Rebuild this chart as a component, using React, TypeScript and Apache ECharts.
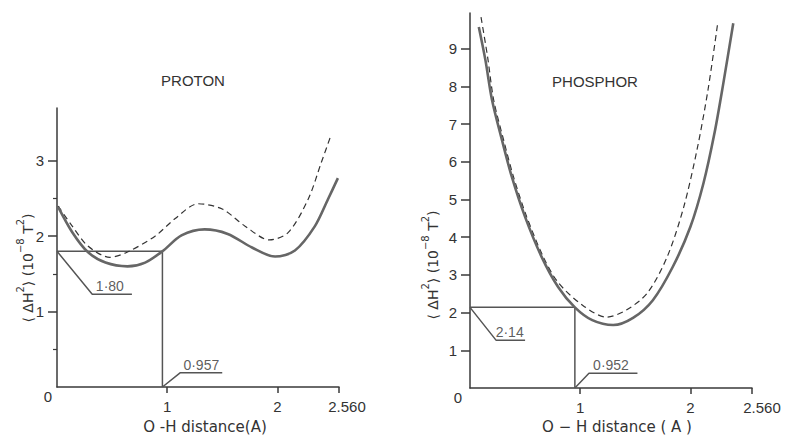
import React, { useEffect, useRef } from "react";
import * as echarts from "echarts";

// PROTON panel (O-H distance in Å, <ΔH²> in 1e-8 T²)
const protonSolid: [number, number][] = [
  [0.01, 2.39], [0.14, 2.05], [0.28, 1.79], [0.44, 1.65], [0.64, 1.6], [0.8, 1.65],
  [0.957, 1.8], [1.13, 2.01], [1.34, 2.09], [1.55, 2.03], [1.77, 1.85], [1.98, 1.73],
  [2.16, 1.81], [2.34, 2.13], [2.46, 2.49], [2.55, 2.77],
];
const protonDashed: [number, number][] = [
  [0.01, 2.4], [0.14, 2.13], [0.28, 1.87], [0.48, 1.72], [0.64, 1.79], [0.89, 2.0],
  [1.07, 2.23], [1.28, 2.43], [1.5, 2.36], [1.71, 2.13], [1.93, 1.95], [2.1, 2.05],
  [2.28, 2.49], [2.4, 2.98], [2.49, 3.35],
];
const protonEq = { r: 0.957, v: 1.8, rText: "0·957", vText: "1·80" };
const protonVLeader: [number, number][] = [[0, 1.8], [0.32, 1.23], [0.68, 1.23]];
const protonRLeader: [number, number][] = [[0.957, 0], [1.12, 0.19], [1.5, 0.19]];
const protonLabelPos: [number, number][] = [[0.48, 1.23], [1.31, 0.19]];

// PHOSPHOR panel
const phosSolid: [number, number][] = [
  [0.08, 9.58], [0.14, 8.7], [0.2, 7.64], [0.29, 6.58], [0.38, 5.6], [0.5, 4.54],
  [0.65, 3.48], [0.8, 2.68], [0.952, 2.14], [1.11, 1.8], [1.3, 1.67], [1.48, 1.86],
  [1.66, 2.33], [1.84, 3.21], [2.0, 4.27], [2.12, 5.44], [2.22, 6.77], [2.3, 8.09],
  [2.39, 9.68],
];
const phosDashed: [number, number][] = [
  [0.1, 9.84], [0.16, 8.78], [0.215, 7.64], [0.305, 6.58], [0.395, 5.6], [0.515, 4.54],
  [0.665, 3.48], [0.8, 2.8], [1.02, 2.2], [1.24, 1.88], [1.42, 2.07], [1.61, 2.52],
  [1.79, 3.48], [1.94, 4.8], [2.06, 6.31], [2.16, 7.9], [2.25, 9.71],
];
const phosEq = { r: 0.952, v: 2.14, rText: "0·952", vText: "2·14" };
const phosVLeader: [number, number][] = [[0, 2.14], [0.236, 1.27], [0.5, 1.27]];
const phosRLeader: [number, number][] = [[0.952, 0], [1.08, 0.39], [1.52, 0.39]];
const phosLabelPos: [number, number][] = [[0.36, 1.27], [1.28, 0.39]];

const xTicks = [1, 2, 2.56];
const protonYTicks = [1, 2, 3];
const protonYMinor = [0.5, 1.5, 2.5];
const phosYTicks = [1, 2, 3, 4, 5, 6, 7, 8, 9];

const FONT = "Liberation Sans";
const AXIS = "#3a3a3a";
const CURVE = "#666666";
const TXT = "#333";

export default function App() {
  const ref = useRef<HTMLDivElement>(null);
  useEffect(() => {
    if (!ref.current) return;
    const chart = echarts.init(ref.current, undefined, { renderer: "svg" });

    const xAxis = (gridIndex: number, endPad: number) => ({
      type: "value",
      gridIndex,
      min: 0,
      max: 2.56,
      axisLine: { lineStyle: { color: AXIS, width: 1.5 } },
      axisTick: { customValues: xTicks, length: 6, lineStyle: { color: AXIS, width: 1.5 } },
      axisLabel: {
        customValues: xTicks,
        margin: 12,
        color: TXT,
        fontFamily: FONT,
        fontSize: 15,
        formatter: (v: number) => (Math.abs(v - 2.56) < 1e-6 ? "{e|2.560}" : String(v)),
        rich: { e: { padding: [0, 0, 0, endPad], fontFamily: FONT, fontSize: 15, color: TXT } },
      },
      splitLine: { show: false },
    });
    const yAxis = (gridIndex: number, max: number, ticks: number[]) => ({
      type: "value",
      gridIndex,
      min: 0,
      max,
      position: "left",
      axisLine: { show: true, lineStyle: { color: AXIS, width: 1.5 } },
      axisTick: { show: true, customValues: ticks, length: 9, lineStyle: { color: AXIS, width: 1.5 } },
      axisLabel: { customValues: ticks, margin: 13, color: TXT, fontFamily: FONT, fontSize: 15 },
      splitLine: { show: false },
    });

    const line = (data: [number, number][], axisIdx: number, yIdx: number, dashed: boolean) => ({
      type: "line",
      xAxisIndex: axisIdx,
      yAxisIndex: yIdx,
      data,
      smooth: 0.3,
      showSymbol: false,
      symbol: "none",
      silent: true,
      lineStyle: dashed ? { color: "#333", width: 1.2, type: [6, 4] } : { color: CURVE, width: 2.6 },
      z: dashed ? 3 : 4,
    });
    const straight = (data: [number, number][], axisIdx: number, yIdx: number) => ({
      type: "line",
      xAxisIndex: axisIdx,
      yAxisIndex: yIdx,
      data,
      showSymbol: false,
      symbol: "none",
      silent: true,
      lineStyle: { color: "#555", width: 1.5 },
      z: 2,
    });
    const guide = (eq: { r: number; v: number }): [number, number][] => [
      [0, eq.v],
      [eq.r, eq.v],
      [eq.r, 0],
    ];
    const labels = (pos: [number, number][], texts: string[], axisIdx: number, yIdx: number) => ({
      type: "scatter",
      xAxisIndex: axisIdx,
      yAxisIndex: yIdx,
      symbolSize: 0,
      silent: true,
      data: pos.map((p, i) => ({ value: p, name: texts[i] })),
      label: {
        show: true,
        position: "top",
        distance: 1,
        formatter: (p: any) => p.name,
        color: TXT,
        fontFamily: FONT,
        fontSize: 14,
      },
    });

    const yNameRich = "{n|⟨ ΔH}{s|2}{n|⟩ (10}{s|−8}{n| T}{s|2}{n|)}";
    const rich = {
      n: { fontFamily: "DejaVu Sans", fontSize: 14, fill: TXT, color: TXT, verticalAlign: "bottom", lineHeight: 20 },
      s: { fontFamily: "DejaVu Sans", fontSize: 10, fill: TXT, color: TXT, verticalAlign: "top", lineHeight: 20 },
    };
    const yName = (x: number, y: number) => ({
      type: "text",
      x,
      y,
      rotation: Math.PI / 2,
      style: { text: yNameRich, rich, align: "center", verticalAlign: "middle", fill: TXT },
    });
    const txt = (x: number, y: number, text: string, size: number, family = FONT) => ({
      type: "text",
      x,
      y,
      style: { text, align: "center", verticalAlign: "middle", fontFamily: family, fontSize: size, fill: TXT },
    });

    chart.setOption({
      animation: false,
      backgroundColor: "#ffffff",
      grid: [
        { left: 57, top: 108, width: 282, height: 279 },
        { left: 470, top: 13, width: 282, height: 375 },
      ],
      xAxis: [xAxis(0, 16), xAxis(1, 20)],
      yAxis: [
        yAxis(0, 3.7, protonYTicks),
        {
          type: "value",
          gridIndex: 0,
          min: 0,
          max: 3.7,
          position: "left",
          axisLine: { show: false },
          axisTick: { show: true, customValues: protonYMinor, length: 4, lineStyle: { color: AXIS, width: 1.2 } },
          axisLabel: { show: false },
          splitLine: { show: false },
        },
        yAxis(1, 9.95, phosYTicks),
      ],
      series: [
        straight(guide(protonEq), 0, 0),
        straight(protonVLeader, 0, 0),
        straight(protonRLeader, 0, 0),
        line(protonDashed, 0, 0, true),
        line(protonSolid, 0, 0, false),
        labels(protonLabelPos, [protonEq.vText, protonEq.rText], 0, 0),
        straight(guide(phosEq), 1, 2),
        straight(phosVLeader, 1, 2),
        straight(phosRLeader, 1, 2),
        line(phosDashed, 1, 2, true),
        line(phosSolid, 1, 2, false),
        labels(phosLabelPos, [phosEq.vText, phosEq.rText], 1, 2),
      ],
      graphic: [
        txt(193, 80, "PROTON", 15),
        txt(595, 81, "PHOSPHOR", 15),
        txt(205, 427, "O -H distance(A)", 15, "DejaVu Sans"),
        txt(617, 427, "O − H distance ( A )", 15, "DejaVu Sans"),
        yName(25, 268),
        yName(430, 265),
        txt(48, 396, "0", 15),
        txt(458, 397, "0", 15),
      ],
    });
    return () => chart.dispose();
  }, []);
  return (
    <div
      ref={ref}
      style={{ position: "absolute", left: 0, top: 0, width: 785, height: 437, background: "#fff" }}
    />
  );
}
